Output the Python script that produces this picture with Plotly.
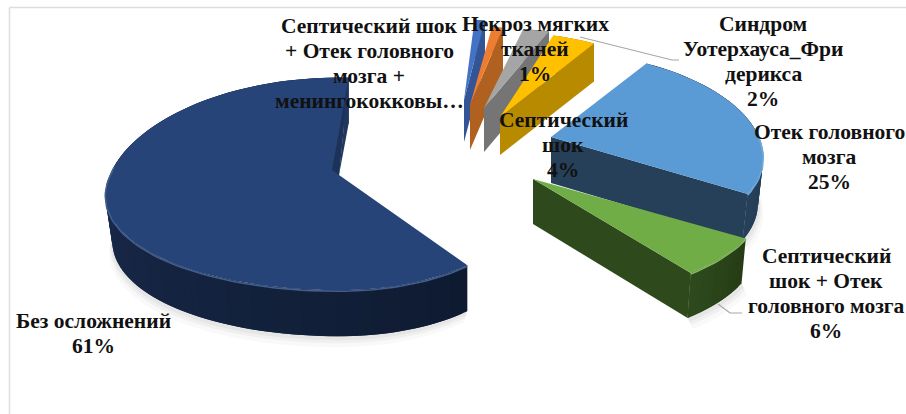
import numpy as np
import plotly.graph_objects as go

# Shares of each outcome, going clockwise from the top of the pie
categories = [
    "Септический шок + Отек головного мозга + менингококковы…",
    "Некроз мягких тканей",
    "Синдром Уотерхауса_Фридерикса",
    "Септический шок",
    "Отек головного мозга",
    "Септический шок + Отек головного мозга",
    "Без осложнений",
]
shares = [1, 1, 2, 4, 25, 6, 61]
wrapped_names = [
    ["Септический шок", "+ Отек головного", "мозга +", "менингококковы…"],
    ["Некроз мягких", "тканей"],
    ["Синдром", "Уотерхауса_Фри", "дерикса"],
    ["Септический", "шок"],
    ["Отек головного", "мозга"],
    ["Септический", "шок + Отек", "головного мозга"],
    ["Без осложнений"],
]
show_pct = [False, True, True, True, True, True, True]

# Slice styling
top_colors = ["#4472C4", "#ED7D31", "#A5A5A5", "#FFC000", "#5B9BD5", "#70AD47", "#264478"]
wall_colors = ["#335595", "#B0601F", "#757575", "#B88A00", "#264059", "#2E4A1C", "#20365F"]
wall_dark = ["#335595", "#B0601F", "#757575", "#B88A00", "#1E3448", "#253C15", "#0E1A30"]

# Explosion of every slice in screen units, measured from the pie centre
explode_x = [14, 20, 34, 50, 101, 83, -111]
explode_y = [-60, -55, -52, -43, -23, 19, 15]
# Per-slice projection: radius to the right, to the left, towards the back, towards the front
rad_right = [200, 210, 250, 205, 208, 225, 183]
rad_left = [200, 210, 250, 205, 208, 225, 229]
rad_back = [92, 90, 92, 98, 98, 102, 112]
rad_front = [92, 90, 92, 98, 98, 102, 98]
depths = [42, 45, 44, 38, 46, 45, 46]
hub_depths = [42, 45, 44, 38, 46, 45, 0]
# The bottom rim of a wall recedes a little towards the hub
taper_right = [1, 1, 1, 1, 0.975, 0.98, 1]
taper_left = [1, 1, 1, 1, 1, 1, 0.97]

label_x = [369, 535, 763, 563, 829, 826, 93]
label_y = [26, 24, 24, 120, 132, 256, 321]

first_angle = 3.6
centre_x, centre_y = 450.0, 160.0
persp_x, persp_y = 0.20, 0.15

fig = go.Figure()


def poly(xs, ys, color, opacity=1.0):
    fig.add_trace(go.Scatter(
        x=list(xs), y=list(ys), mode="lines", fill="toself", fillcolor=color,
        line=dict(color=color, width=0), opacity=opacity, hoverinfo="skip", showlegend=False,
    ))


def mix(a, b, t):
    ca = [int(a[i:i + 2], 16) for i in (1, 3, 5)]
    cb = [int(b[i:i + 2], 16) for i in (1, 3, 5)]
    return "#" + "".join(f"{round(u + (v - u) * t):02x}" for u, v in zip(ca, cb))


spans = np.radians(np.array(shares) * 3.6)
starts = np.radians(first_angle) + np.concatenate(([0], np.cumsum(spans)[:-1]))

for i in range(len(shares)):
    t0, t1 = starts[i], starts[i] + spans[i]
    th = np.linspace(t0, t1, max(10, int(shares[i] * 2)))
    hx, hy = centre_x + explode_x[i], centre_y + explode_y[i]
    sn, cs = np.sin(th), np.cos(th)
    rx = np.where(sn >= 0, rad_right[i], rad_left[i])
    ry = np.where(cs >= 0, rad_back[i], rad_front[i])
    arc_x = hx + rx * sn / (1 + persp_x * cs)
    arc_y = hy - ry * cs / (1 + persp_y * cs)
    d = depths[i]
    n = len(th)
    # lower rim of the wall
    low_x = hx + (arc_x - hx) * np.where(sn >= 0, taper_right[i], taper_left[i])
    low_y = arc_y + d

    # soft shadow beneath the front of the wall
    if shares[i] >= 6:
        front = cs < 0.05
        fx, fy = low_x[front], low_y[front]
        lean = -0.3 if i == len(shares) - 1 else 0.5
        for g, op in ((11, 0.05), (7, 0.07), (4, 0.09)):
            poly(np.r_[fx, (fx + lean * g)[::-1]], np.r_[fy, (fy + g)[::-1]], "#808080", op)

    # outer wall, shaded from the lit side to the dark side
    for j in range(n - 1):
        k = min(j + 2, n - 1)
        poly(
            [arc_x[j], arc_x[k], low_x[k], low_x[j]],
            [arc_y[j], arc_y[k], low_y[k], low_y[j]],
            mix(wall_dark[i], wall_colors[i], j / max(1, n - 2)),
        )
    # cut face that closes the slice
    poly(
        [hx, arc_x[-1], low_x[-1], hx],
        [hy, arc_y[-1], low_y[-1], hy + hub_depths[i]],
        wall_colors[i],
    )
    # top face
    poly(np.r_[hx, arc_x, hx], np.r_[hy, arc_y, hy], top_colors[i])

    # bevel along the front rim
    if shares[i] >= 6:
        front = cs < 0.1
        fig.add_trace(go.Scatter(
            x=arc_x[front], y=arc_y[front] + 1, mode="lines",
            line=dict(color=mix(top_colors[i], "#FFFFFF", 0.14), width=1.6),
            hoverinfo="skip", showlegend=False,
        ))
    # the largest slice shows a narrow strip of its cut face inside the top outline
    if i == len(shares) - 1:
        poly([arc_x[-1], hx, hx - 7, arc_x[-1]], [arc_y[-1], hy, hy - 5, arc_y[-1]], "#1C3258")

# leader lines
for xs, ys in (([580, 672, 679], [37, 60, 60]), ([718, 730, 742], [304, 313, 313])):
    fig.add_trace(go.Scatter(x=xs, y=ys, mode="lines", line=dict(color="#A6A6A6", width=1.2),
                             hoverinfo="skip", showlegend=False))

# data labels, one line at a time to keep the leading of the text box
line_gap = 25
for names, share, lx, ly, pct in zip(wrapped_names, shares, label_x, label_y, show_pct):
    rows = names + ([f"{share}%"] if pct else [])
    for k, row in enumerate(rows):
        fig.add_annotation(x=lx, y=ly + k * line_gap, text=row, showarrow=False,
                           xanchor="center", yanchor="middle",
                           font=dict(family="Liberation Serif", size=21.5, color="#111111", weight=700))

fig.update_layout(
    width=906, height=414, margin=dict(l=0, r=0, t=0, b=0),
    paper_bgcolor="white", plot_bgcolor="white", showlegend=False,
    xaxis=dict(range=[0, 906], visible=False, fixedrange=True),
    yaxis=dict(range=[414, 0], visible=False, fixedrange=True),
    shapes=[
        dict(type="line", xref="x", yref="y", x0=9.5, x1=906, y0=7.5, y1=7.5,
             line=dict(color="#DDDDDD", width=1.5)),
        dict(type="line", xref="x", yref="y", x0=9.5, x1=9.5, y0=7.5, y1=414,
             line=dict(color="#DDDDDD", width=1.5)),
    ],
)
fig.write_html("out.html", config={"displayModeBar": False})
